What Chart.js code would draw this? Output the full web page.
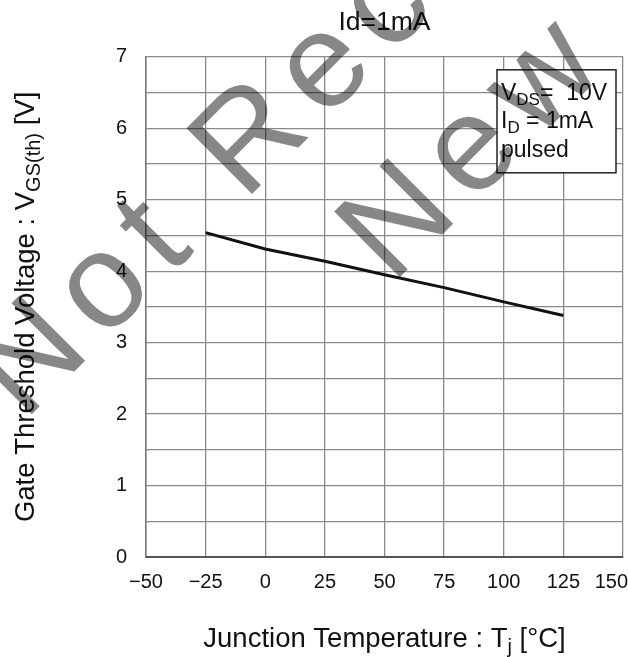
<!DOCTYPE html>
<html>
<head>
<meta charset="utf-8">
<script src="https://cdn.jsdelivr.net/npm/chart.js@4.4.1/dist/chart.umd.min.js"></script>
<style>
  html, body { margin: 0; padding: 0; background: #fff; }
  #chart { display: block; }
</style>
</head>
<body>
<canvas id="chart" width="628" height="657"></canvas>
<script>
const FONT = '"Liberation Sans", Arial, Helvetica, sans-serif';

// Tj [°C] vs VGS(th) [V]
const temperature = [-25, 0, 25, 50, 75, 100, 125];
const thresholdVoltage = [4.54, 4.31, 4.14, 3.95, 3.77, 3.57, 3.38];

const xTicks = [-50, -25, 0, 25, 50, 75, 100, 125, 150];
const yTicks = [0, 1, 2, 3, 4, 5, 6, 7];

const titleText = 'Id=1mA';
// rich text pieces: [text, subscript?]
const yTitle = [['Gate Threshold Voltage : V', false], ['GS(th)', true], [' [V]', false]];
const xTitle = [['Junction Temperature : T', false], ['j', true], [' [\u00B0C]', false]];
const conditions = [
  [['V', false], ['DS', true], ['=  10V', false]],
  [['I', false], ['D', true], [' = 1mA', false]],
  [['pulsed', false]]
];
const watermark = ['Not Recommended for', 'New Design'];

function richWidth(ctx, parts, size) {
  let w = 0;
  parts.forEach(([t, sub]) => {
    ctx.font = (sub ? Math.round(size * 0.72) : size) + 'px ' + FONT;
    w += ctx.measureText(t).width;
  });
  return w;
}

function drawRich(ctx, parts, x, y, size, align) {
  let cx = align === 'center' ? x - richWidth(ctx, parts, size) / 2 : x;
  ctx.textAlign = 'left';
  ctx.textBaseline = 'alphabetic';
  parts.forEach(([t, sub]) => {
    ctx.font = (sub ? Math.round(size * 0.72) : size) + 'px ' + FONT;
    ctx.fillText(t, cx, sub ? y + size * 0.22 : y);
    cx += ctx.measureText(t).width;
  });
}

const decorations = {
  id: 'decorations',
  afterDraw(chart) {
    const ctx = chart.ctx;
    const area = chart.chartArea;
    const xs = chart.scales.x;
    ctx.save();
    ctx.fillStyle = '#111';

    // x tick labels, last one kept inside the canvas
    ctx.font = '20px ' + FONT;
    ctx.textBaseline = 'alphabetic';
    ctx.textAlign = 'left';
    xTicks.forEach(v => {
      const label = v < 0 ? '\u2212' + Math.abs(v) : String(v);
      const w = ctx.measureText(label).width;
      let left = xs.getPixelForValue(v) - w / 2;
      if (left + w > chart.width) left = chart.width - w;
      ctx.fillText(label, left, area.bottom + 31);
    });

    // axis titles
    drawRich(ctx, xTitle, (area.left + area.right) / 2, 647, 27.5, 'center');
    ctx.save();
    ctx.translate(34, (area.top + area.bottom) / 2);
    ctx.rotate(-Math.PI / 2);
    drawRich(ctx, yTitle, 0, 0, 27.5, 'center');
    ctx.restore();

    // measurement conditions box
    const bx = area.right - 126, by = area.top + 13, bw = 119, bh = 103;
    ctx.fillStyle = '#fff';
    ctx.fillRect(bx, by, bw, bh);
    ctx.strokeStyle = '#222';
    ctx.lineWidth = 1.5;
    ctx.strokeRect(bx, by, bw, bh);
    ctx.fillStyle = '#111';
    conditions.forEach((line, i) => {
      drawRich(ctx, line, bx + 4, by + 30 + i * 28.5, 23, 'left');
    });

    // watermark, two lines at -45°
    ctx.fillStyle = 'rgba(0,0,0,0.47)';
    ctx.font = '135px ' + FONT;
    ctx.letterSpacing = '16px';
    ctx.textAlign = 'left';
    ctx.textBaseline = 'alphabetic';
    [[24, 422], [392, 285]].forEach(([x, y], i) => {
      ctx.save();
      ctx.translate(x, y);
      ctx.rotate(-Math.PI / 4);
      ctx.fillText(watermark[i], 0, 0);
      ctx.restore();
    });
    ctx.restore();
  }
};

new Chart(document.getElementById('chart'), {
  type: 'line',
  data: {
    datasets: [{
      data: temperature.map((t, i) => ({ x: t, y: thresholdVoltage[i] })),
      borderColor: '#111',
      borderWidth: 3,
      pointRadius: 0,
      fill: false,
      tension: 0
    }]
  },
  options: {
    responsive: false,
    animation: false,
    layout: { padding: { left: 0, right: 5, top: 0, bottom: 0 } },
    plugins: {
      legend: { display: false },
      tooltip: { enabled: false },
      title: {
        display: true,
        text: titleText,
        fullSize: false,
        color: '#111',
        font: { family: FONT, size: 26.5, weight: 'normal' },
        padding: { top: 7, bottom: 18 }
      }
    },
    scales: {
      x: {
        type: 'linear',
        min: -50,
        max: 150,
        afterBuildTicks: s => { s.ticks = xTicks.map(v => ({ value: v })); },
        ticks: { display: false },
        grid: { color: '#8a8a8a', lineWidth: 1.3, drawTicks: false },
        border: { color: '#555', width: 2 },
        afterFit: s => { s.height = 100; }
      },
      y: {
        min: 0,
        max: 7,
        ticks: {
          stepSize: 0.5,
          padding: 19,
          color: '#111',
          font: { family: FONT, size: 20 },
          callback: v => yTicks.includes(v) ? String(v) : ''
        },
        grid: { color: '#8a8a8a', lineWidth: 1.3, drawTicks: false },
        border: { color: '#777', width: 1.5 },
        afterFit: s => { s.width = 146; }
      }
    }
  },
  plugins: [decorations]
});
</script>
</body>
</html>
